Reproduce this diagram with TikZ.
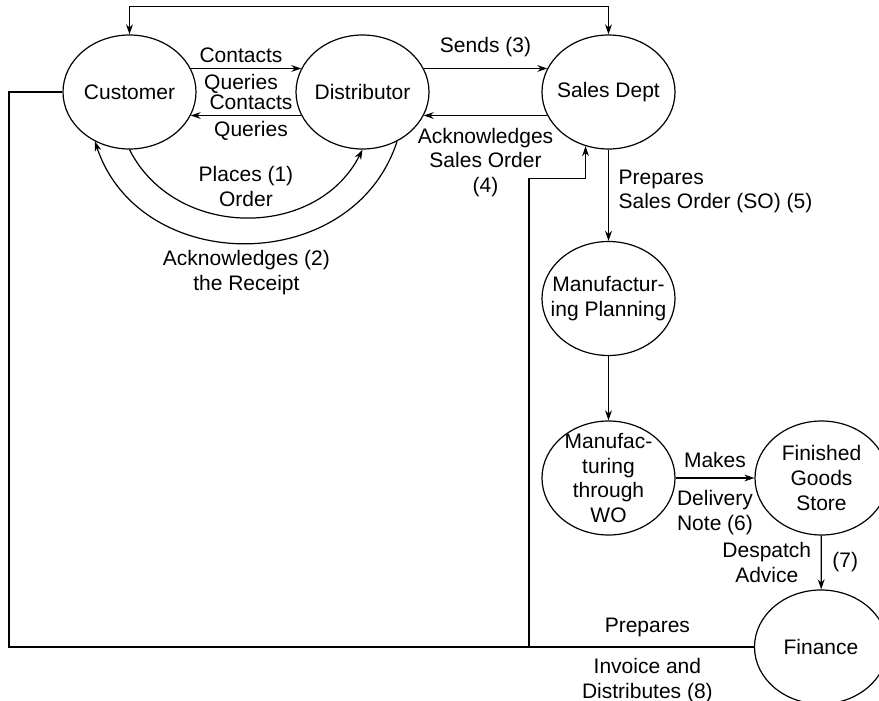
\documentclass[tikz,border=0pt]{standalone}
\usepackage{fontspec}
\setmainfont{Liberation Sans}
\usetikzlibrary{shapes.geometric,arrows.meta}
\tikzset{
    stage/.style={draw, ellipse, minimum width=66.5pt, minimum height=57pt, inner sep=0pt},
    txt/.style={align=center, inner sep=0pt},
    lbl/.style={align=center, inner sep=2.5pt},
}
\begin{document}
\begin{tikzpicture}[x=0.5pt, y=0.5pt, line width=0.6pt, >={Stealth[length=5pt,width=3.4pt]},
    every node/.style={font=\fontsize{10.5}{12.3}\selectfont}]
    \useasboundingbox (0,0) rectangle (879,-701);
    \node[stage, label={[txt]center:Customer}] (cust) at (129.5,-92) {};
    \node[stage, label={[txt]center:Distributor}] (dist) at (362.5,-92) {};
    \node[stage, label={[txt]center:Sales Dept}] (sales) at (608.5,-92) {};
    \node[stage, label={[txt]center:Manufactur-\\ing Planning}] (plan) at (608.5,-298.5) {};
    \node[stage, label={[txt]center:Manufac-\\turing\\through\\WO}] (wo) at (608.5,-478) {};
    \node[stage, label={[txt]center:Finished\\Goods\\Store}] (store) at (821.5,-478) {};
    \node[stage, label={[txt]center:Finance}] (fin) at (821,-647) {};
    \coordinate (lft) at (9,0);
    \coordinate (br) at (529,-647);
    \draw[<->] (cust.north) -- ++(0,27.5) -| (sales.north);
    \draw[->] (cust.21) -- node[lbl, above, xshift=-2.5pt] {Contacts} node[lbl, below, xshift=-2.5pt] {Queries} (dist.159);
    \draw[->] (dist.201) -- node[lbl, above, xshift=2.5pt] {Contacts} node[lbl, below, xshift=2.5pt] {Queries} (cust.-21);
    \draw[->] (cust.south) .. controls (175,-240) and (317,-240) .. (dist.south)
        node[lbl, above, midway, yshift=2.5pt] {Places (1)\\Order};
    \draw[->] (dist.-55) .. controls (353,-277) and (140,-277) .. (cust.-125)
        node[lbl, below, midway, yshift=-1pt] {Acknowledges (2)\\the Receipt};
    \draw[->] (dist.21) -- node[lbl, above, yshift=3pt] {Sends (3)} (sales.159);
    \draw[->] (sales.201) -- node[lbl, below, yshift=-3.5pt] {Acknowledges\\Sales Order\\(4)} (dist.-21);
    \draw[->] (sales) -- node[lbl, right, align=left, xshift=2.25pt, yshift=2pt] {Prepares\\Sales Order (SO) (5)} (plan);
    \draw[->] (plan) -- (wo);
    \draw[->] (wo.east) -- node[lbl, above, yshift=2.5pt] {Makes} node[lbl, below, yshift=-3.5pt] {Delivery\\Note (6)} (store.west);
    \draw[->] (store) -- node[lbl, left, xshift=-2.25pt] {Despatch\\Advice} node[lbl, right, xshift=2.8pt] {(7)} (fin);
    \draw (fin.west) -- node[lbl, above, pos=0.143, yshift=2.5pt] {Prepares} node[lbl, below, pos=0.143, yshift=-3pt] {Invoice and\\Distributes (8)} (fin.west -| lft) |- (cust.west);
    \draw[->] (br) |- ([yshift=-16pt]sales.-113) -- (sales.-113);
\end{tikzpicture}
\end{document}
